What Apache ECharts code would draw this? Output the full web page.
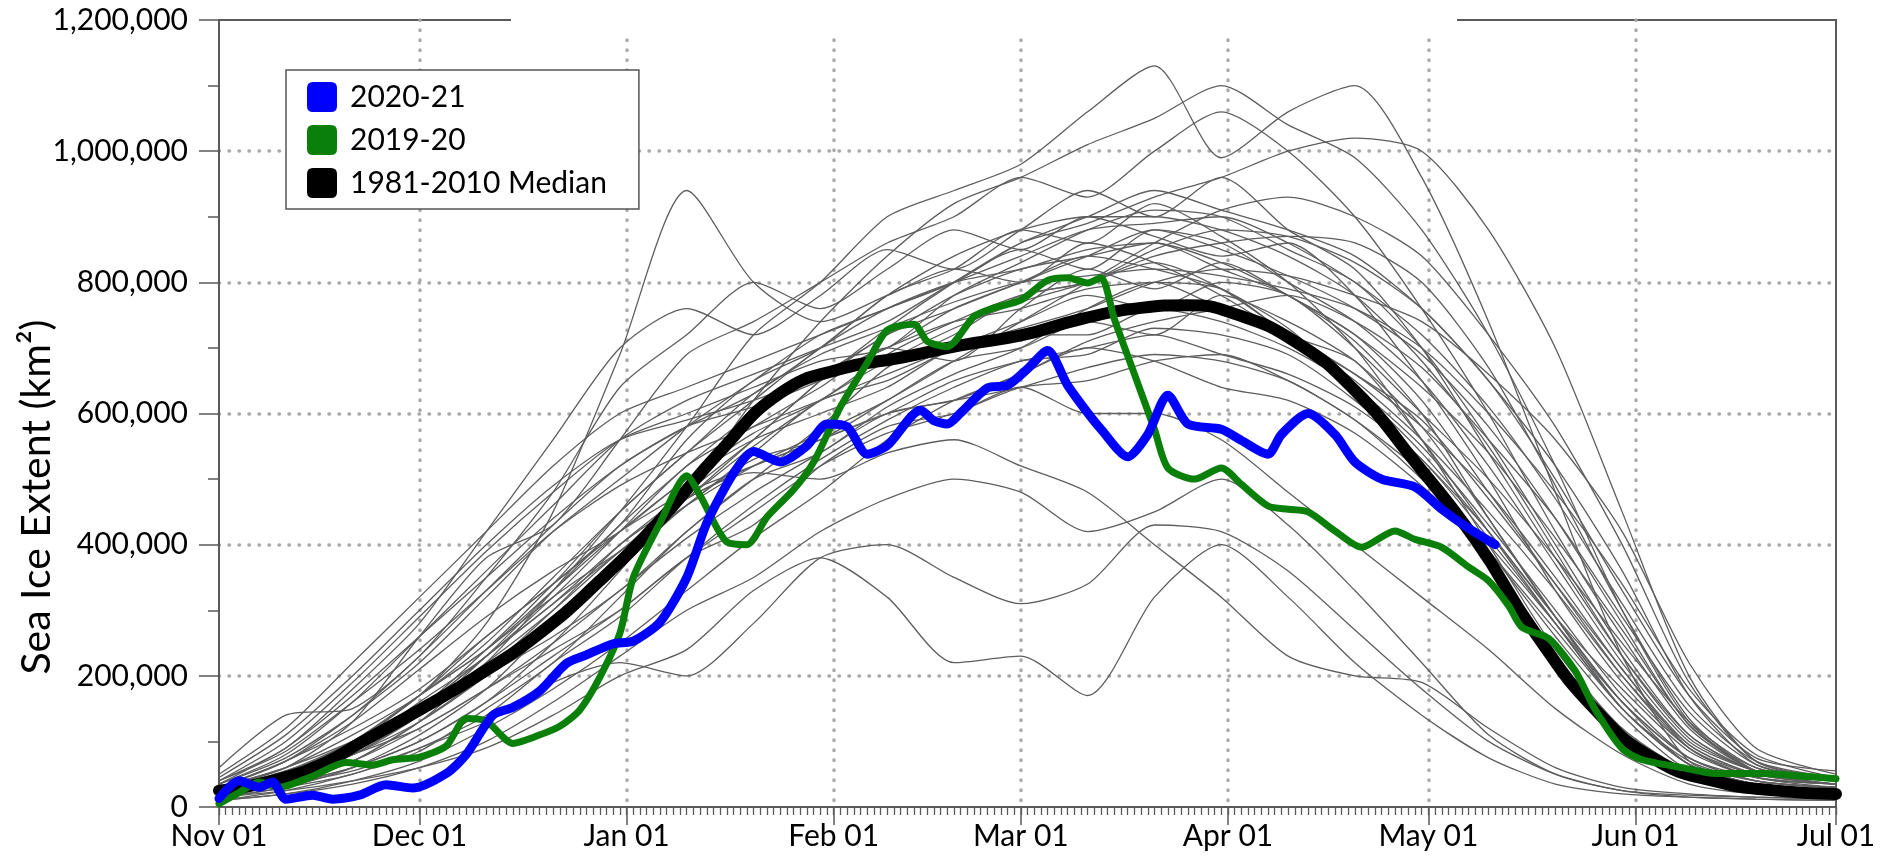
<!DOCTYPE html>
<html><head><meta charset="utf-8">
<script src="https://cdn.jsdelivr.net/npm/echarts/dist/echarts.min.js"></script>
<style>html,body{margin:0;padding:0;background:#fff}#c{width:1881px;height:861px}</style>
</head><body><div id="c"></div>
<script>
// ---- axis / tick labels ----
const monthLabels = ['Nov 01','Dec 01','Jan 01','Feb 01','Mar 01','Apr 01','May 01','Jun 01','Jul 01'];
const monthStartDays = [0,30,61,92,120,151,181,212,242];
const yTickValues = [0,200000,400000,600000,800000,1000000,1200000];
const yTitle = 'Sea Ice Extent (km²)';

// ---- 2020-21 (days since Nov 01, extent in thousand km2) ----
const blueDays = [0,3,6,8,10,14,17,21,25,29,34,37,41,44,48,52,55,59,62,66,70,73,77,80,84,88,91,94,97,100,105,107,109,111,115,118,121,124,127,130,132,136,139,142,145,150,153,157,159,163,167,170,174,179,183,187,191];
const blueVals = [13,40,30,38,12,18,12,18,34,29,51,80,140,152,177,219,232,249,253,282,350,433,509,542,526,551,584,580,538,551,605,589,584,601,639,643,668,696,643,601,576,534,568,628,584,576,559,538,568,600,568,526,500,488,454,425,400];

// ---- 2019-20 ----
const greenDays = [0,3,6,9,14,19,23,26,30,34,37,40,44,47,51,54,57,60,62,66,70,72,76,79,82,86,89,93,97,100,104,106,109,113,116,120,124,127,130,132,134,137,140,142,146,150,153,157,160,163,167,171,176,179,183,187,190,193,195,199,203,206,210,213,219,224,231,237,242];
const greenVals = [5,22,38,30,47,68,64,72,76,93,135,131,97,106,123,148,198,265,350,433,505,475,404,400,442,484,526,610,677,727,736,710,702,748,761,773,803,807,799,807,744,660,576,517,500,517,492,459,454,450,421,396,421,408,396,366,345,307,274,257,207,148,89,72,60,51,51,47,43];

// ---- 1981-2010 median ----
const medianDays = [0,8,16,21,30,39,48,57,66,75,84,93,102,111,120,129,138,145,152,161,170,179,188,197,206,215,224,233,242];
const medianVals = [25,40,68,97,148,202,265,345,437,542,631,668,685,704,719,744,761,765,752,710,635,526,408,265,148,72,39,25,20];

// ---- individual seasons (grey), sampled every 10 days, thousand km2 ----
const greyDays = [0,10,20,30,40,50,60,70,80,90,100,110,120,130,140,150,160,170,180,190,200,210,220,230,242];
const grey01 = [40,90,180,280,420,560,700,760,720,780,850,820,880,940,900,960,880,820,700,540,380,230,110,55,40];
const grey02 = [60,140,150,230,350,480,640,720,800,760,820,880,850,900,870,840,860,780,650,500,330,190,90,50,45];
const grey03 = [30,60,130,260,380,430,560,690,740,800,860,900,960,930,1000,1060,1000,900,760,600,420,260,120,55,40];
const grey04 = [30,55,100,170,280,450,690,940,800,740,780,820,800,860,830,780,720,680,560,420,280,150,70,40,30];
const grey05 = [25,40,70,130,220,330,450,580,720,800,900,940,980,1060,1130,990,1060,1100,960,740,480,230,70,40,30];
const grey06 = [20,35,60,100,160,250,360,480,620,740,840,920,960,1010,1050,1100,1040,990,880,720,520,300,130,55,40];
const grey07 = [20,40,80,130,200,290,380,470,560,650,730,800,860,890,930,960,1000,1020,1000,880,700,450,200,70,45];
const grey08 = [20,45,90,160,230,320,420,520,580,640,700,680,760,820,790,830,780,720,620,480,340,200,90,45,30];
const grey09 = [35,80,160,260,360,460,560,620,660,700,740,800,850,820,880,860,800,740,650,520,370,220,100,55,40];
const grey10 = [15,30,60,110,180,280,370,460,530,560,620,680,700,740,720,780,740,680,580,440,290,150,65,35,25];
const grey11 = [40,100,190,290,390,480,560,600,640,680,700,780,830,880,910,900,850,800,700,560,400,240,110,55,45];
const grey12 = [25,50,100,170,260,340,430,560,650,700,780,820,880,860,920,870,800,700,560,400,240,120,55,35,25];
const grey13 = [30,60,100,150,210,290,380,460,540,620,650,700,740,780,760,800,780,700,600,500,380,250,130,60,40];
const grey14 = [20,35,70,130,200,260,330,420,500,540,610,660,700,760,800,790,720,660,590,470,340,210,90,45,35];
const grey15 = [45,110,200,300,400,490,560,590,620,660,720,780,820,840,860,820,780,710,600,440,290,160,75,45,35];
const grey16 = [10,25,50,85,150,220,320,420,500,580,670,720,780,800,850,880,870,830,760,650,520,360,170,65,40];
const grey17 = [30,70,130,210,290,360,420,500,560,600,640,700,720,720,760,740,700,640,550,430,300,170,75,40,30];
const grey18 = [20,40,80,140,210,300,400,480,560,650,720,760,800,840,820,790,730,640,540,420,290,180,85,45,35];
const grey19 = [50,120,220,320,420,520,600,640,680,720,760,800,860,900,940,910,880,840,760,650,500,330,170,75,55];
const grey20 = [25,55,95,170,240,330,420,500,570,620,690,740,780,800,830,790,720,650,560,450,330,200,95,50,35];
const grey21 = [15,30,50,90,140,220,290,380,460,530,590,640,680,690,730,720,690,620,530,420,290,160,65,35,25];
const grey22 = [35,90,170,260,350,440,520,580,610,650,700,740,760,790,800,760,720,660,580,480,350,210,95,50,35];
const grey23 = [20,45,80,140,230,330,430,520,600,660,700,760,800,840,880,850,810,760,690,580,440,280,125,60,40];
const grey24 = [30,70,140,230,330,430,520,580,630,700,780,840,880,900,900,880,840,780,680,550,390,230,105,55,40];
const grey25 = [25,50,90,150,230,310,400,470,520,560,600,650,680,700,720,690,660,610,530,410,280,150,65,35,25];
const grey26 = [40,85,160,240,330,420,490,540,580,620,660,700,730,760,800,820,810,780,740,660,560,420,220,90,50];
const grey27 = [10,20,40,70,120,180,250,330,410,480,560,620,660,710,740,760,780,740,670,560,440,290,145,65,40];
const grey28 = [30,70,120,180,260,340,420,480,520,560,600,620,640,670,690,680,650,590,510,400,280,160,75,40,30];
const grey29 = [20,40,70,120,180,250,330,410,480,540,600,620,660,700,680,640,620,570,490,390,270,150,65,35,25];
const grey30 = [35,75,140,220,320,420,500,580,650,720,760,800,840,880,890,900,860,800,720,610,470,310,155,70,45];
const grey31 = [15,35,60,100,160,230,300,380,450,520,570,600,640,650,680,690,650,590,500,390,260,140,55,30,20];
const grey32 = [30,60,110,170,250,350,450,540,620,700,760,800,820,850,860,830,780,720,640,540,410,270,125,55,35];
const grey33 = [20,40,85,150,240,340,450,540,630,690,730,770,800,810,820,810,790,760,700,600,480,340,180,80,45];
const grey34 = [25,50,100,170,240,320,390,460,520,570,620,680,740,800,860,910,930,900,840,720,580,400,190,70,40];
const grey35 = [15,40,90,150,230,310,390,470,550,620,680,730,770,800,840,860,870,860,800,670,490,300,135,55,35];
const grey36 = [15,25,40,60,90,140,200,240,330,380,320,220,230,170,320,400,320,220,140,75,35,20,15,12,10];
const grey37 = [20,35,55,90,130,190,220,200,280,380,400,350,310,340,430,420,360,270,180,100,50,25,18,15,12];
const grey38 = [25,50,90,150,220,300,390,470,510,500,540,560,520,480,400,320,230,200,190,120,60,30,20,15,12];
const grey39 = [10,20,35,60,100,160,230,300,350,420,470,500,480,420,450,500,430,330,220,110,50,25,15,12,10];
const grey40 = [20,45,80,120,180,240,300,380,430,520,580,600,640,600,600,560,480,400,320,240,150,80,35,20,15];

const greySeasons = [grey01,grey02,grey03,grey04,grey05,grey06,grey07,grey08,grey09,grey10,
  grey11,grey12,grey13,grey14,grey15,grey16,grey17,grey18,grey19,grey20,
  grey21,grey22,grey23,grey24,grey25,grey26,grey27,grey28,grey29,grey30,
  grey31,grey32,grey33,grey34,grey35,grey36,grey37,grey38,grey39,grey40];

// ---- build category axis (one category per day) ----
const totalDays = monthStartDays[monthStartDays.length - 1];
const dayLabels = [];
for (let d = 0; d <= totalDays; d++) {
  let m = 0;
  while (m + 1 < monthStartDays.length && monthStartDays[m + 1] <= d) m++;
  const name = monthLabels[m].split(' ')[0];
  const dd = d - monthStartDays[m] + 1;
  dayLabels.push(name + ' ' + (dd < 10 ? '0' + dd : '' + dd));
}
const isMonthStart = i => monthStartDays.indexOf(i) >= 0;
const toPairs = (days, vals) => days.map((d, i) => [d, vals[i] * 1000]);

const FONT = 'Lato';
const AX = '#5a5a5a';
const dotted = { color: '#a9a9a9', width: 3.5, type: [0.5, 9.5], cap: 'round' };

const series = [];
greySeasons.forEach((g, k) => {
  series.push({
    name: 'season' + k, type: 'line', data: toPairs(greyDays, g), smooth: 0.25,
    symbol: 'none', silent: true, z: 2,
    lineStyle: { color: '#5e5e5e', width: 1.3 }
  });
});
series.push({
  name: '1981-2010 Median', type: 'line', data: toPairs(medianDays, medianVals), smooth: 0.5,
  symbol: 'none', z: 3, itemStyle: { color: '#000000' },
  lineStyle: { color: '#000000', width: 12, cap: 'round', join: 'round' }
});
series.push({
  name: '2019-20', type: 'line', data: toPairs(greenDays, greenVals), smooth: 0.25,
  symbol: 'none', z: 4, itemStyle: { color: '#0a800a' },
  lineStyle: { color: '#0a800a', width: 7, cap: 'round', join: 'round' }
});
series.push({
  name: '2020-21', type: 'line', data: toPairs(blueDays, blueVals), smooth: 0.25,
  symbol: 'none', z: 5, itemStyle: { color: '#0000ff' },
  lineStyle: { color: '#0000ff', width: 9, cap: 'round', join: 'round' }
});

const chart = echarts.init(document.getElementById('c'), null, { renderer: 'canvas' });
chart.setOption({
  animation: false,
  backgroundColor: '#ffffff',
  grid: { left: 219, right: 45, top: 20, bottom: 54, show: true, borderColor: AX, borderWidth: 2, backgroundColor: 'transparent' },
  legend: {
    data: ['2020-21', '2019-20', '1981-2010 Median'],
    orient: 'vertical', left: 286, top: 70,
    icon: 'path://M6,0 H24 Q30,0 30,6 V24 Q30,30 24,30 H6 Q0,30 0,24 V6 Q0,0 6,0 Z',
    itemWidth: 30, itemHeight: 30, itemGap: 13,
    padding: [12, 32, 11, 21],
    backgroundColor: '#ffffff', borderColor: '#555555', borderWidth: 1.5, borderRadius: 0,
    textStyle: { fontFamily: FONT, fontSize: 30, color: '#000', padding: [0, 0, 0, 8] },
    selectedMode: false
  },
  xAxis: [{
    type: 'category', data: dayLabels, boundaryGap: false,
    axisLine: { show: true, lineStyle: { color: AX, width: 2 } },
    axisTick: { show: true, interval: (i) => isMonthStart(i), length: 18, lineStyle: { color: AX, width: 1.5 } },
    axisLabel: { interval: (i) => isMonthStart(i), fontFamily: FONT, fontSize: 30, color: '#000', margin: 14 },
    splitLine: { show: true, interval: (i) => isMonthStart(i) && i > 0 && i < totalDays, lineStyle: dotted }
  }, {
    type: 'category', data: dayLabels, boundaryGap: false, position: 'bottom',
    axisLine: { show: false },
    axisTick: { show: true, interval: 0, length: 8, lineStyle: { color: AX, width: 1.3 } },
    axisLabel: { show: false }, splitLine: { show: false }
  }],
  yAxis: {
    type: 'value', min: yTickValues[0], max: yTickValues[yTickValues.length - 1], interval: 200000,
    axisLine: { show: true, lineStyle: { color: AX, width: 2 } },
    axisTick: { show: true, length: 20, lineStyle: { color: AX, width: 1.5 } },
    minorTick: { show: true, splitNumber: 2, length: 11, lineStyle: { color: AX, width: 1.5 } },
    axisLabel: { fontFamily: FONT, fontSize: 30, color: '#000', margin: 31,
      formatter: v => Number(v).toLocaleString('en-US') },
    splitLine: { show: true, showMinLine: false, showMaxLine: false, lineStyle: dotted }
  },
  graphic: [{
    type: 'rect', shape: { x: 511, y: 0, width: 946, height: 38 },
    style: { fill: '#ffffff' }, z: 100, silent: true
  }, {
    type: 'text', x: 37, y: 497, rotation: Math.PI / 2, z: 100, silent: true,
    style: { text: yTitle, fontFamily: FONT, fontSize: 41, fill: '#000', align: 'center', verticalAlign: 'middle' }
  }],
  series: series
});
</script></body></html>
